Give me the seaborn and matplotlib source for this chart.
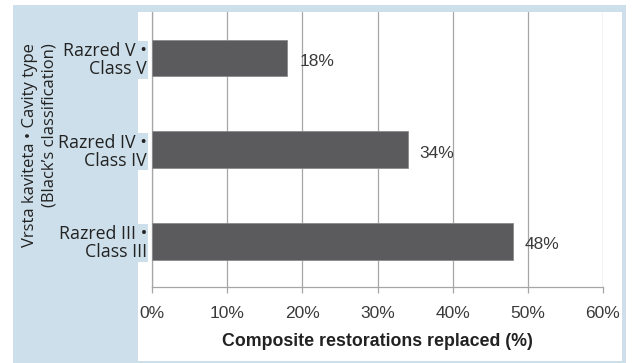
import matplotlib
matplotlib.use("Agg")
import matplotlib.pyplot as plt
import seaborn as sns
import pandas as pd
from matplotlib.patches import Rectangle
from matplotlib.ticker import FuncFormatter, MultipleLocator

categories = ["Razred V •\nClass V", "Razred IV •\nClass IV", "Razred III •\nClass III"]
values = [18, 34, 48]
value_labels = ["18%", "34%", "48%"]
xlabel = "Composite restorations replaced (%)"
ylabel = "Vrsta kaviteta • Cavity type\n(Black’s classification)"

sns.set_theme(style="white")
plt.rcParams["font.family"] = ["Liberation Sans", "DejaVu Sans"]

BLUE = "#cddfea"
BAR = "#5b5b5d"
GRID = "#a6a6a6"
TXT = "#3a3a3a"

W, H = 635, 363
fig = plt.figure(figsize=(W / 100, H / 100), dpi=100)
fig.patch.set_facecolor("white")

def px_rect(x0, y0, x1, y1, color, z):
    fig.patches.append(Rectangle((x0 / W, 1 - y1 / H), (x1 - x0) / W, (y1 - y0) / H,
                                 transform=fig.transFigure, facecolor=color,
                                 edgecolor="none", zorder=z))

px_rect(13, 5, 626, 363, BLUE, -2)
px_rect(138, 12, 622, 361, "white", -1)

ax = fig.add_axes([152 / W, 1 - 287 / H, (603 - 152) / W, (287 - 12) / H])
ax.set_facecolor("none")
ax.set_zorder(5)

df = pd.DataFrame({"cat": categories, "val": values})
sns.barplot(data=df, x="val", y="cat", orient="h", color=BAR, width=0.4,
            saturation=1, edgecolor="#8a8a8c", linewidth=0.6, ax=ax, zorder=3)

ax.set_xlim(0, 60)
ax.set_ylim(2.5, -0.5)
ax.xaxis.set_major_locator(MultipleLocator(10))
ax.xaxis.set_major_formatter(FuncFormatter(lambda v, p: f"{v:.0f}%"))
ax.grid(axis="x", color=GRID, linewidth=0.9, zorder=0)
ax.set_axisbelow(True)

for s in ["top", "right"]:
    ax.spines[s].set_visible(False)
for s in ["left", "bottom"]:
    ax.spines[s].set_color(GRID)
    ax.spines[s].set_linewidth(0.9)

ax.tick_params(axis="x", bottom=True, length=4, width=0.9, color=GRID,
               labelsize=12.5, labelcolor=TXT, pad=10)
ax.tick_params(axis="y", left=False, length=0, pad=3.5)
for lab in ax.get_yticklabels():
    lab.set_fontfamily(["Open Sans", "DejaVu Sans"])
    lab.set_fontsize(12.8)
    lab.set_color("#222222")
    lab.set_linespacing(1.0)
    lab.set_bbox(dict(facecolor=BLUE, edgecolor="none", pad=0.5))

for i, (v, t) in enumerate(zip(values, value_labels)):
    ax.text(v + 1.6, i + 0.04, t, va="center", ha="left", fontsize=12.5, color=TXT, zorder=4)

ax.set_xlabel(xlabel, fontsize=12.8, fontweight="bold", color="#222222", labelpad=8)
ax.set_ylabel("")
fig.text(40 / W, 1 - 43 / H, ylabel, rotation=90, ha="center", va="top",
         fontsize=12, color="#222222", family=["Open Sans", "DejaVu Sans"],
         linespacing=1.3, multialignment="right", rotation_mode="default")

fig.savefig("out.png", dpi=100, facecolor="white")
